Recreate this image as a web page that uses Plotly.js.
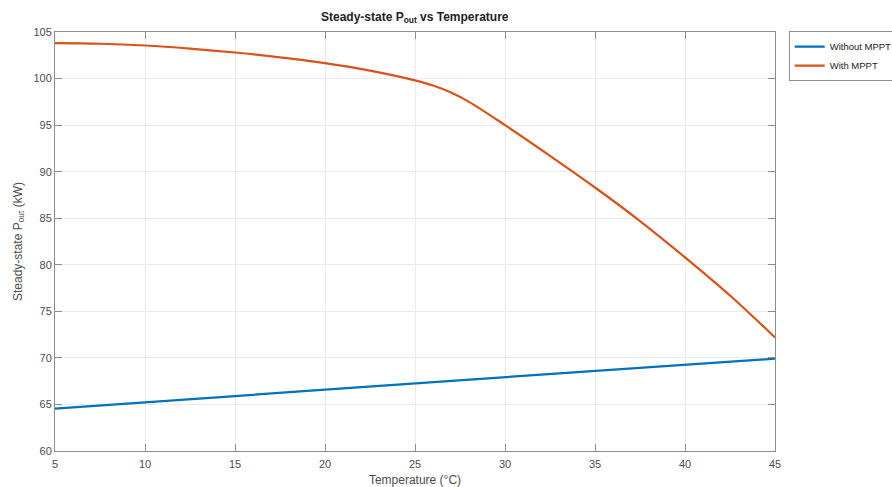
<!DOCTYPE html>
<html>
<head>
<meta charset="utf-8">
<script src="https://cdn.plot.ly/plotly-3.0.1.min.js"></script>
<style>html,body{margin:0;padding:0;background:#fff;}#chart{width:892px;height:487px;}</style>
</head>
<body>
<div id="chart"></div>
<script>
var tempWithout = [5, 10, 15, 20, 25, 30, 35, 40, 45];
var powerWithout = [64.55, 65.2, 65.9, 66.6, 67.25, 67.9, 68.6, 69.25, 69.92];
var tempWith = [5, 7.5, 10, 12.5, 15, 17.5, 20, 22.5, 25, 26, 27, 28, 30, 32.5, 35, 37.5, 40, 42.5, 45];
var powerWith = [103.8, 103.74, 103.55, 103.22, 102.8, 102.28, 101.65, 100.85, 99.8, 99.25, 98.5, 97.5, 95.0, 91.7, 88.3, 84.7, 80.8, 76.7, 72.2];
var xTicks = [5, 10, 15, 20, 25, 30, 35, 40, 45];
var yTicks = [60, 65, 70, 75, 80, 85, 90, 95, 100, 105];

var traces = [
  {x: tempWithout, y: powerWithout, type: 'scatter', mode: 'lines', name: 'Without MPPT',
   line: {color: '#0072BD', width: 2.2}},
  {x: tempWith, y: powerWith, type: 'scatter', mode: 'lines', name: 'With MPPT',
   line: {color: '#D95319', width: 2.2, shape: 'spline', smoothing: 1}}
];

var axisCommon = {
  showline: true, linecolor: '#8c8c8c', linewidth: 1, mirror: 'ticks',
  ticks: 'inside', ticklen: 7, tickcolor: '#8c8c8c', tickwidth: 1,
  showgrid: true, gridcolor: '#ebebeb', gridwidth: 1, zeroline: false,
  tickfont: {family: 'Liberation Sans, Arial, sans-serif', size: 11, color: '#4d4d4d'}
};

var layout = {
  width: 892, height: 487,
  paper_bgcolor: '#ffffff', plot_bgcolor: '#ffffff',
  margin: {l: 55, r: 117, t: 32, b: 36, pad: 0, autoexpand: false},
  title: {text: '<b>Steady-state P<sub>out</sub> vs Temperature</b>',
    font: {family: 'Liberation Sans, Arial, sans-serif', size: 12, color: '#222'},
    x: 0.465, xanchor: 'center', y: 0.975, yanchor: 'top'},
  xaxis: Object.assign({}, axisCommon, {range: [5, 45], tickvals: xTicks, ticklabelstandoff: 3,
    title: {text: 'Temperature (°C)', standoff: 6,
      font: {family: 'Liberation Sans, Arial, sans-serif', size: 12, color: '#4d4d4d'}}}),
  yaxis: Object.assign({}, axisCommon, {range: [60, 105], tickvals: yTicks,
    title: {text: 'Steady-state P<sub>out</sub> (kW)', standoff: 8,
      font: {family: 'Liberation Sans, Arial, sans-serif', size: 12, color: '#4d4d4d'}}}),
  showlegend: true,
  legend: {x: 1.019, xanchor: 'left', y: 1.002, yanchor: 'top',
    bgcolor: '#ffffff', bordercolor: '#8c8c8c', borderwidth: 1,
    font: {family: 'Liberation Sans, Arial, sans-serif', size: 9.5, color: '#222'},
    tracegroupgap: 0, itemwidth: 30}
};

Plotly.newPlot('chart', traces, layout, {displayModeBar: false, staticPlot: true});
</script>
</body>
</html>
